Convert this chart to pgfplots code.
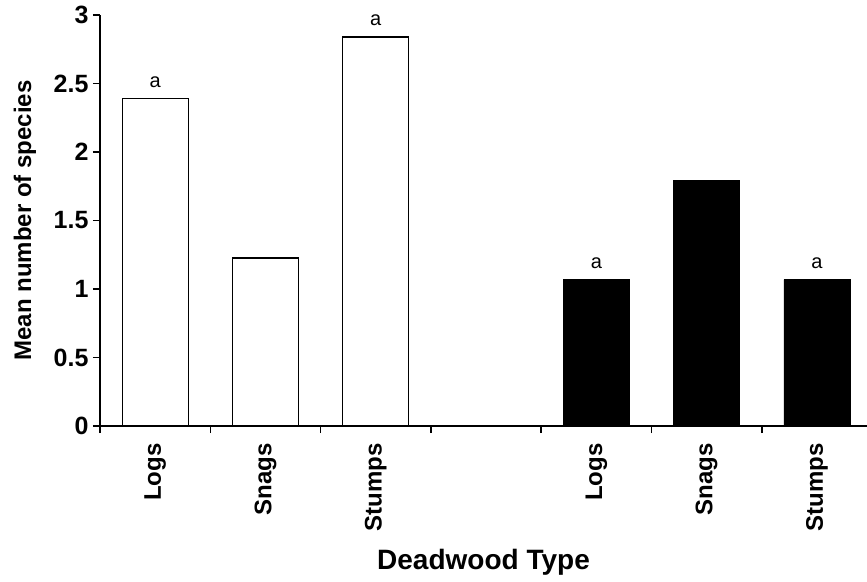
\documentclass[border=0pt]{standalone}
\usepackage{fontspec}
\setmainfont{Liberation Sans}
\usepackage{pgfplots}
\pgfplotsset{compat=1.18}
\begin{document}
\begin{tikzpicture}
\begin{axis}[
  scale only axis, width=767pt, height=411pt,
  xmin=-0.5, xmax=6.454, ymin=0, ymax=3,
  axis lines*=left,
  axis line style={line width=1.5pt},
  clip=false,
  tick align=outside,
  ytick={0,0.5,1,1.5,2,2.5,3},
  yticklabels={0,0.5,1,1.5,2,2.5,3},
  major tick length=7pt,
  minor tick length=7pt,
  ytick style={line width=1.5pt, black},
  yticklabel style={font=\fontsize{25}{25}\selectfont\bfseries, xshift=-1pt},
  xtick={0,1,2,3,4,5,6},
  xticklabels={Logs,Snags,Stumps,,Logs,Snags,Stumps},
  major x tick style={draw=none},
  minor xtick={-0.5,0.5,1.5,2.5,3.5,4.5,5.5},
  minor x tick style={line width=1.5pt, black},
  xticklabel style={yshift=-7pt, rotate=90, anchor=east, font=\fontsize{24}{24}\selectfont\bfseries},
  xlabel={Deadwood Type},
  xlabel style={font=\fontsize{28}{28}\selectfont\bfseries, at={(axis description cs:0.5,-0.331)}, anchor=center},
  ylabel={Mean number of species},
  ylabel style={font=\fontsize{24}{24}\selectfont\bfseries, at={(axis description cs:-0.0978,0.5)}, anchor=center},
  nodes near coords,
  point meta=explicit symbolic,
  nodes near coords style={font=\fontsize{20}{20}\selectfont, anchor=south, yshift=7pt},
]
\addplot[ybar, bar shift=0pt, bar width=66pt, fill=white, draw=black, line width=1.2pt]
  coordinates {(0,2.39) [a] (1,1.226) [] (2,2.84) [a]};
\addplot[ybar, bar shift=0pt, bar width=66pt, fill=black, draw=black, line width=0.5pt]
  coordinates {(4,1.068) [a] (5,1.795) [] (6,1.068) [a]};
\end{axis}
\pgfresetboundingbox
\path[use as bounding box] (-100pt,-155pt) rectangle (767pt,426pt);
\end{tikzpicture}
\end{document}
